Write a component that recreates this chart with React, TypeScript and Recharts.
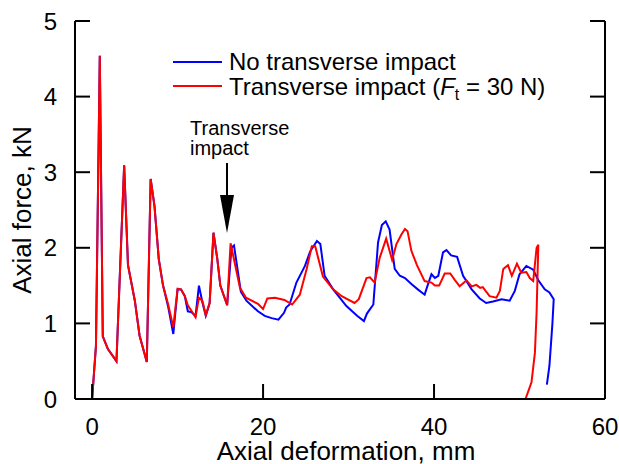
import React from "react";
import { LineChart, Line, XAxis, YAxis, Customized } from "recharts";

const FONT = "'Liberation Sans', Arial, Helvetica, sans-serif";

const xTicks = [0, 20, 40, 60];
const yTicks = [0, 1, 2, 3, 4, 5];

// [axial deformation (mm), axial force (kN)]
const noImpact: [number, number][] = [
  [0, 0.0], [0.45, 0.7], [0.9, 4.54], [1.25, 0.83], [1.85, 0.66], [2.85, 0.5],
  [3.75, 3.09], [4.2, 1.77], [5.0, 1.3], [5.55, 0.84], [6.4, 0.49], [6.85, 2.91],
  [7.3, 2.55], [7.8, 1.85], [8.3, 1.5], [8.9, 1.22], [9.5, 0.86], [10.0, 1.45],
  [10.4, 1.45], [10.85, 1.36], [11.2, 1.16], [11.6, 1.15], [12.1, 1.1], [12.5, 1.5],
  [12.9, 1.28], [13.3, 1.1], [13.75, 1.27], [14.2, 2.2], [14.65, 1.85], [15.0, 1.5],
  [15.8, 1.24], [16.3, 2.0], [16.6, 2.03], [17.4, 1.42], [18.05, 1.3], [19.4, 1.16],
  [20.2, 1.1], [21.0, 1.07], [21.8, 1.05], [22.45, 1.14], [22.7, 1.21], [23.1, 1.25],
  [23.9, 1.54], [24.9, 1.76], [25.5, 1.95], [26.3, 2.09], [26.7, 2.05], [27.2, 1.63],
  [28.2, 1.45], [29.75, 1.23], [31.0, 1.1], [31.8, 1.03], [32.15, 1.13], [32.9, 1.25],
  [33.45, 2.07], [33.9, 2.3], [34.35, 2.35], [34.8, 2.24], [35.4, 1.72], [36.0, 1.63],
  [36.6, 1.6], [37.35, 1.52], [38.1, 1.45], [38.9, 1.38], [39.3, 1.52], [39.7, 1.65],
  [40.1, 1.6], [40.5, 1.63], [41.05, 1.94], [41.45, 1.97], [42.0, 1.9], [42.7, 1.88],
  [43.4, 1.63], [44.4, 1.45], [45.35, 1.33], [46.1, 1.27], [46.9, 1.29], [47.9, 1.32],
  [48.85, 1.3], [49.45, 1.43], [50.0, 1.65], [50.8, 1.76], [51.6, 1.71], [52.2, 1.57],
  [52.95, 1.45], [53.5, 1.41], [54.0, 1.32], [53.85, 1.0], [53.5, 0.44], [53.2, 0.19],
];

const withImpact: [number, number][] = [
  [0, 0.0], [0.45, 0.7], [0.9, 4.54], [1.25, 0.83], [1.85, 0.66], [2.85, 0.5],
  [3.75, 3.09], [4.2, 1.77], [5.0, 1.3], [5.55, 0.84], [6.4, 0.49], [6.85, 2.91],
  [7.3, 2.55], [7.8, 1.85], [8.3, 1.5], [8.9, 1.25], [9.5, 0.95], [10.0, 1.46],
  [10.4, 1.45], [10.85, 1.36], [11.2, 1.24], [11.6, 1.17], [12.1, 1.08], [12.5, 1.34],
  [12.9, 1.3], [13.3, 1.11], [13.75, 1.27], [14.2, 2.2], [14.65, 1.85], [15.0, 1.5],
  [15.8, 1.24], [16.2, 2.06], [17.3, 1.47], [18.0, 1.34], [19.4, 1.26], [20.0, 1.19],
  [20.5, 1.33], [21.4, 1.34], [22.5, 1.31], [23.4, 1.25], [24.3, 1.38], [25.1, 1.72],
  [25.7, 2.02], [26.1, 2.02], [27.0, 1.62], [28.2, 1.45], [29.2, 1.36], [30.7, 1.27],
  [31.2, 1.32], [32.1, 1.6], [32.5, 1.61], [33.05, 1.54], [33.65, 1.87], [34.4, 2.12],
  [35.1, 1.84], [35.6, 2.05], [36.2, 2.18], [36.6, 2.25], [36.9, 2.22], [37.35, 1.96],
  [38.0, 1.77], [38.9, 1.56], [39.7, 1.54], [40.1, 1.5], [40.6, 1.5], [41.25, 1.66],
  [41.9, 1.66], [42.4, 1.58], [43.0, 1.49], [43.8, 1.57], [44.4, 1.49], [44.95, 1.51],
  [45.4, 1.47], [45.7, 1.48], [46.5, 1.36], [47.3, 1.34], [47.7, 1.43], [48.1, 1.72],
  [48.65, 1.77], [49.1, 1.63], [49.7, 1.79], [50.2, 1.67], [50.8, 1.68], [51.2, 1.6],
  [51.6, 1.56], [52.0, 2.0], [52.2, 2.04], [52.1, 1.6], [52.0, 1.15], [51.8, 0.61],
  [51.4, 0.22], [50.7, 0.0],
];

const toRows = (pts: [number, number][]) => pts.map(([x, y]) => ({ x, y }));

const axisStroke = { stroke: "#000", strokeWidth: 2 };
const TICK_LEN = 15;
const X_GAP = 19; // bottom labels: cap top below the axis line
const Y_GAP = 18; // left labels: right edge left of the axis line

// inward tick + label, one per side
const BottomTick = ({ x, y, payload }: any) => (
  <g>
    <line x1={x} y1={y - X_GAP} x2={x} y2={y - X_GAP - TICK_LEN} {...axisStroke} />
    <text x={x} y={y} dy="0.71em" textAnchor="middle" fontSize={24} fontFamily={FONT} fill="#000">
      {payload.value}
    </text>
  </g>
);

const LeftTick = ({ x, y, payload }: any) => (
  <g>
    <line x1={x + Y_GAP} y1={y} x2={x + Y_GAP + TICK_LEN} y2={y} {...axisStroke} />
    <text x={x} y={y} dy="0.355em" textAnchor="end" fontSize={24} fontFamily={FONT} fill="#000">
      {payload.value}
    </text>
  </g>
);

const TopTick = ({ x, y }: any) => (
  <line x1={x} y1={y} x2={x} y2={y + TICK_LEN} {...axisStroke} />
);

const RightTick = ({ x, y }: any) => (
  <line x1={x} y1={y} x2={x - TICK_LEN} y2={y} {...axisStroke} />
);

// legend + "Transverse impact" arrow, drawn on top of the plot
const Overlay = () => (
  <g fontFamily={FONT} fill="#000">
    <line x1={173} y1={62} x2={222} y2={62} stroke="#0000ff" strokeWidth={2} />
    <text x={229} y={70} fontSize={24}>No transverse impact</text>
    <line x1={173} y1={86} x2={222} y2={86} stroke="#ff0000" strokeWidth={2} />
    <text x={229} y={95} fontSize={24}>
      Transverse impact (<tspan fontStyle="italic">F</tspan>
      <tspan dy={5} fontSize={16}>t</tspan>
      <tspan dy={-5}> = 30 N)</tspan>
    </text>
    <text x={190} y={135} fontSize={20}>Transverse</text>
    <text x={190} y={155} fontSize={20}>impact</text>
    <line x1={227} y1={163} x2={227} y2={197} stroke="#000" strokeWidth={2} />
    <polygon points="220,195 234,195 227,233" fill="#000" />
  </g>
);

export default function App() {
  return (
    <div style={{ position: "absolute", left: 0, top: 0 }}>
      <LineChart
        width={619}
        height={464}
        margin={{ top: 21, right: 0, left: 0, bottom: 0 }}
      >
        <XAxis
          xAxisId="b"
          type="number"
          dataKey="x"
          domain={[-2, 60]}
          ticks={xTicks}
          allowDataOverflow
          interval={0}
          height={65}
          tickSize={0}
          tickMargin={X_GAP}
          axisLine={axisStroke}
          tickLine={false}
          tick={<BottomTick />}
          label={{
            value: "Axial deformation, mm",
            position: "insideBottom",
            offset: 4,
            dx: 6,
            style: { fill: "#000", fontSize: 26, fontFamily: FONT },
          }}
        />
        <XAxis
          xAxisId="t"
          orientation="top"
          type="number"
          dataKey="x"
          domain={[-2, 60]}
          ticks={xTicks}
          allowDataOverflow
          interval={0}
          height={0}
          tickSize={0}
          tickMargin={0}
          axisLine={axisStroke}
          tickLine={false}
          tick={<TopTick />}
        />
        <YAxis
          yAxisId="l"
          type="number"
          domain={[0, 5]}
          ticks={yTicks}
          allowDataOverflow
          interval={0}
          width={75}
          tickSize={0}
          tickMargin={Y_GAP}
          axisLine={axisStroke}
          tickLine={false}
          tick={<LeftTick />}
          label={{
            value: "Axial force, kN",
            angle: -90,
            position: "insideLeft",
            offset: 22,
            style: { textAnchor: "middle", fill: "#000", fontSize: 26, fontFamily: FONT },
          }}
        />
        <YAxis
          yAxisId="r"
          orientation="right"
          type="number"
          domain={[0, 5]}
          ticks={yTicks}
          allowDataOverflow
          interval={0}
          width={14}
          tickSize={0}
          tickMargin={0}
          axisLine={axisStroke}
          tickLine={false}
          tick={<RightTick />}
        />
        <Line
          xAxisId="b"
          yAxisId="l"
          data={toRows(noImpact)}
          dataKey="y"
          type="linear"
          stroke="#0000ff"
          strokeWidth={2}
          dot={false}
          activeDot={false}
          isAnimationActive={false}
        />
        <Line
          xAxisId="b"
          yAxisId="l"
          data={toRows(withImpact)}
          dataKey="y"
          type="linear"
          stroke="#ff0000"
          strokeWidth={2}
          dot={false}
          activeDot={false}
          isAnimationActive={false}
        />
        <Customized component={Overlay} />
      </LineChart>
    </div>
  );
}
